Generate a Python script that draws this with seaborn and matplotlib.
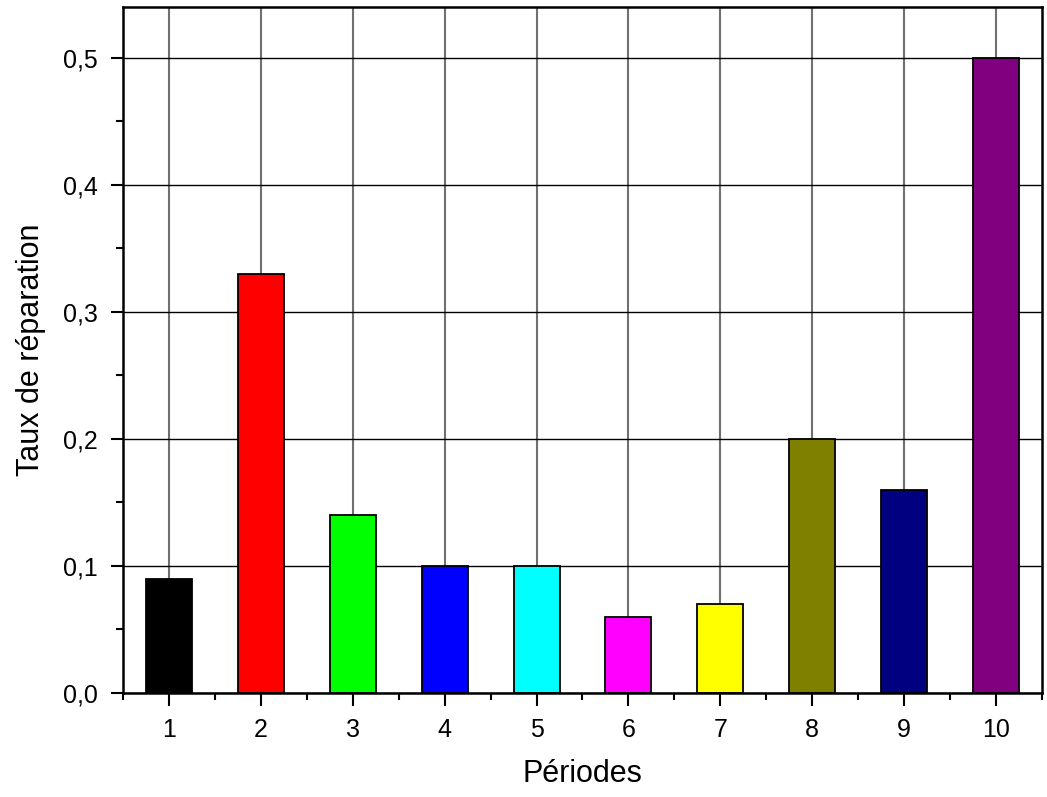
import pandas as pd
import seaborn as sns
import matplotlib.pyplot as plt
from matplotlib.ticker import MultipleLocator, FuncFormatter

periodes = [1, 2, 3, 4, 5, 6, 7, 8, 9, 10]
taux = [0.09, 0.33, 0.14, 0.10, 0.10, 0.06, 0.07, 0.20, 0.16, 0.50]
couleurs = ['#000000', '#FF0000', '#00FF00', '#0000FF', '#00FFFF',
            '#FF00FF', '#FFFF00', '#808000', '#000080', '#800080']

df = pd.DataFrame({'periode': periodes, 'taux': taux})

sns.set_style('white')
plt.rcParams['font.family'] = ['Liberation Sans', 'DejaVu Sans']
plt.rcParams['text.color'] = 'black'
plt.rcParams['axes.labelcolor'] = 'black'
plt.rcParams['xtick.color'] = 'black'
plt.rcParams['ytick.color'] = 'black'

fig = plt.figure(figsize=(10.47, 7.97), dpi=100)
ax = fig.add_axes([0.1175, 0.1305, 0.8777, 0.8607])
ax.set_axisbelow(True)

sns.barplot(data=df, x='periode', y='taux', hue='periode', palette=couleurs,
            native_scale=True, width=0.5, edgecolor='black', linewidth=1.3,
            saturation=1, legend=False, ax=ax)

ax.set_xlim(0.5, 10.5)
ax.set_ylim(0, 0.54)
ax.xaxis.set_major_locator(MultipleLocator(1))
ax.xaxis.set_minor_locator(MultipleLocator(0.5))
ax.yaxis.set_major_locator(MultipleLocator(0.1))
ax.yaxis.set_minor_locator(MultipleLocator(0.05))
ax.yaxis.set_major_formatter(FuncFormatter(lambda v, p: f'{v:.1f}'.replace('.', ',')))
ax.xaxis.set_major_formatter(FuncFormatter(lambda v, p: f'{int(round(v))}'))

ax.xaxis.grid(True, color='#707070', lw=1.5)
ax.yaxis.grid(True, color='black', lw=1.0)

for s in ax.spines.values():
    s.set_visible(True)
    s.set_color('black')
    s.set_linewidth(1.8)

ax.tick_params(which='major', direction='out', length=9, width=1.5, labelsize=18,
               left=True, bottom=True, top=False, right=False, pad=9)
ax.tick_params(which='minor', direction='out', length=5, width=1.5,
               left=True, bottom=True, top=False, right=False)

ax.set_xlabel('Périodes', fontsize=22, labelpad=12)
ax.set_ylabel('Taux de réparation', fontsize=22, labelpad=12)

plt.savefig('out.png', dpi=100)
